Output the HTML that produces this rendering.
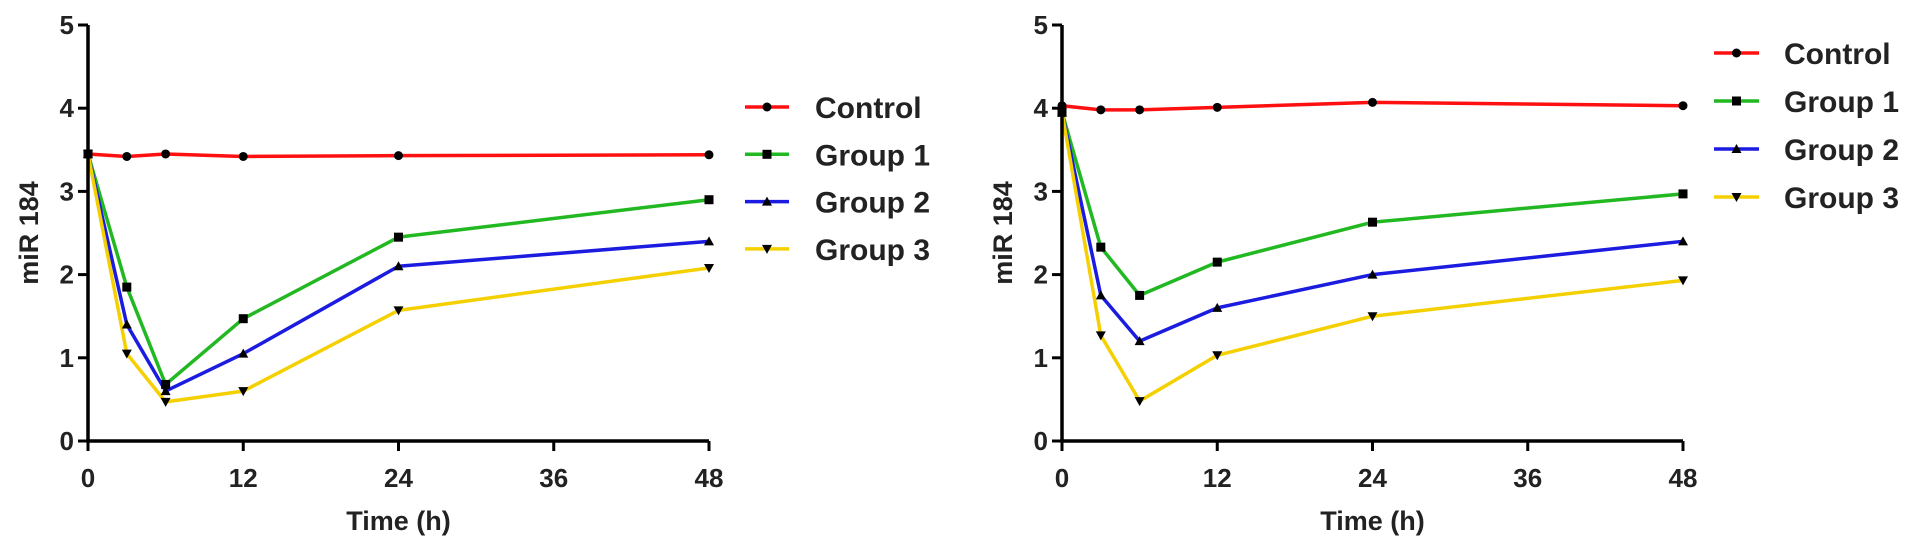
<!DOCTYPE html>
<html><head><meta charset="utf-8"><style>
body{margin:0;background:#fff;}
svg{display:block;font-family:"Liberation Sans",Arial,sans-serif;font-weight:bold;}
</style></head><body>
<svg id="c" width="1913" height="548"></svg>
<script>
const times=[0,3,6,12,24,48];
const seriesNames=["Control","Group 1","Group 2","Group 3"];
const leftControl=[3.45,3.42,3.45,3.42,3.43,3.44];
const leftGroup1=[3.45,1.85,0.68,1.47,2.45,2.9];
const leftGroup2=[3.45,1.4,0.6,1.05,2.1,2.4];
const leftGroup3=[3.45,1.05,0.47,0.6,1.57,2.08];
const rightControl=[4.03,3.98,3.98,4.01,4.07,4.03];
const rightGroup1=[3.95,2.33,1.75,2.15,2.63,2.97];
const rightGroup2=[3.95,1.75,1.2,1.6,2.0,2.4];
const rightGroup3=[3.95,1.27,0.48,1.03,1.5,1.93];
const xTicks=[0,12,24,36,48];
const yTicks=[0,1,2,3,4,5];
const colors=["#ff1010","#22b822","#1c1ce0","#f5d000"];
const markers=["circle","square","up","down"];
const NS="http://www.w3.org/2000/svg";
const svg=document.getElementById("c");
function mk(tag,attrs,parent){const e=document.createElementNS(NS,tag);for(const k in attrs)e.setAttribute(k,attrs[k]);(parent||svg).appendChild(e);return e;}
function marker(kind,cx,cy,g){
  if(kind=="circle")return mk("circle",{cx:cx,cy:cy,r:4.5,fill:"#000"},g);
  if(kind=="square")return mk("rect",{x:cx-4.5,y:cy-4.5,width:9,height:9,fill:"#000"},g);
  if(kind=="up")return mk("polygon",{points:`${cx},${cy-5} ${cx-5},${cy+4} ${cx+5},${cy+4}`,fill:"#000"},g);
  return mk("polygon",{points:`${cx},${cy+5} ${cx-5},${cy-4} ${cx+5},${cy-4}`,fill:"#000"},g);
}
function panel(id,x0,data,leg){
  const y0=441,yTop=25,xEnd=x0+621;
  const sx=t=>x0+t/48*(xEnd-x0);
  const sy=v=>y0-v/5*(y0-yTop);
  const g=mk("g",{});
  
  
  data.forEach((vals,si)=>{
    const pts=vals.map((v,i)=>sx(times[i])+","+sy(v)).join(" ");
    const pl=mk("polyline",{points:pts,fill:"none",stroke:colors[si],"stroke-width":3.5,"stroke-linejoin":"round"},g);
    
    
  });
  data.forEach((vals,si)=>{
    vals.forEach((v,i)=>{
      const m=marker(markers[si],sx(times[i]),sy(v),g);
      
      
    });
  });
  const ax=mk("path",{d:`M${x0},${yTop} V${y0} H${xEnd}`,stroke:"#000","stroke-width":3.5,fill:"none"},g);
  
  
  yTicks.forEach(v=>{
    mk("line",{x1:x0-10,x2:x0,y1:sy(v),y2:sy(v),stroke:"#000","stroke-width":3},g);
    const t=mk("text",{x:x0-14,y:sy(v)+9,"text-anchor":"end","font-size":26,fill:"#222"},g);
    t.textContent=v;
    
    
  });
  xTicks.forEach(v=>{
    mk("line",{x1:sx(v),x2:sx(v),y1:y0,y2:y0+10,stroke:"#000","stroke-width":3},g);
    const t=mk("text",{x:sx(v),y:y0+46,"text-anchor":"middle","font-size":26,fill:"#222"},g);
    t.textContent=v;
    
    
  });
  const xt=mk("text",{x:sx(24),y:530,"text-anchor":"middle","font-size":27,fill:"#222"},g);
  xt.textContent="Time (h)";
  
  
  const yt=mk("text",{x:0,y:0,"text-anchor":"middle","font-size":27,fill:"#222",transform:`translate(${x0-50},233) rotate(-90)`},g);
  yt.textContent="miR 184";
  
  
  seriesNames.forEach((n,si)=>{
    const y=leg.y0+si*leg.dy;
    const e=mk("g",{},g);
    
    
    mk("line",{x1:leg.x1,x2:leg.x2,y1:y,y2:y,stroke:colors[si],"stroke-width":3.5},e);
    marker(markers[si],(leg.x1+leg.x2)/2,y,e);
    const t=mk("text",{x:leg.tx,y:y+11,"font-size":30,fill:"#222"},e);
    t.textContent=n;
  });
}
panel("left",88,[leftControl,leftGroup1,leftGroup2,leftGroup3],{x1:745,x2:789,tx:815,y0:107,dy:47.3});
panel("right",1062,[rightControl,rightGroup1,rightGroup2,rightGroup3],{x1:1714,x2:1759,tx:1784,y0:53,dy:48});
</script>
</body></html>
